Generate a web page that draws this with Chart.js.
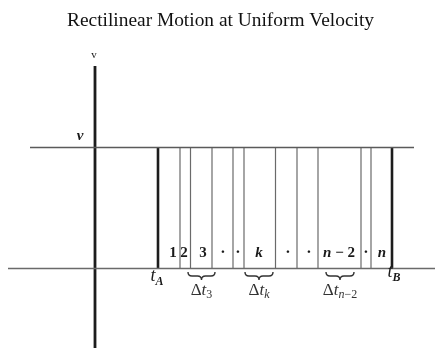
<!DOCTYPE html>
<html>
<head>
<meta charset="utf-8">
<script src="https://cdn.jsdelivr.net/npm/chart.js@4.4.1/dist/chart.umd.min.js"></script>
<style>
  html, body { margin: 0; padding: 0; background: #fff; }
  #wrap { width: 441px; height: 348px; }
</style>
</head>
<body>
<div id="wrap"><canvas id="motion"></canvas></div>
<script>
// Rectilinear motion at uniform velocity: v(t) = v between tA and tB,
// split into n small intervals.

const titleText = 'Rectilinear Motion at Uniform Velocity';

// interval boundaries on the time axis (tA first, tB last)
const boundaries = [6.3, 8.5, 9.55, 11.7, 13.8, 14.9, 18.05, 20.2, 22.3, 26.6, 27.6, 29.7];
const velocity = 12.1;

// labels written inside the intervals
const cellLabels = ['1', '2', '3', '·', '·', 'k', '·', '·', 'n−2', '·', 'n'];
const cellLabelX = [7.8, 8.9, 10.8, 12.8, 14.3, 16.4, 19.3, 21.4, 24.4, 27.1, 28.7];
const cellLabelY = 1.1;

// braces under some intervals
const braceFrom = [9.3, 15.0, 23.1];
const braceTo = [12.0, 17.8, 25.9];
const braceSub = ['3', 'k', 'n−2'];

// axis extents
const timeAxisFrom = -8.7, timeAxisTo = 34.0;
const velLineFrom = -6.5, velLineTo = 31.9;
const velAxisFrom = -8.0, velAxisTo = 20.25;

const datasets = [];
function segment(x0, y0, x1, y1, color, width) {
  datasets.push({
    data: [{ x: x0, y: y0 }, { x: x1, y: y1 }],
    showLine: true,
    borderColor: color,
    borderWidth: width,
    pointRadius: 0,
    pointHoverRadius: 0,
    fill: false
  });
}

segment(timeAxisFrom, 0, timeAxisTo, 0, '#6a6a6a', 1.6);
segment(velLineFrom, velocity, velLineTo, velocity, '#5a5a5a', 1.4);
segment(0, velAxisFrom, 0, velAxisTo, '#1c1c1c', 2.8);
boundaries.forEach((t, i) => {
  const edge = i === 0 || i === boundaries.length - 1;
  segment(t, 0, t, velocity, edge ? '#1c1c1c' : '#6a6a6a', edge ? 2.6 : 1.2);
});

const SERIF = '"Liberation Serif", "DejaVu Serif", serif';

// draw text made of styled pieces: [text, font, dy]
function drawPieces(ctx, pieces, x, y, align) {
  let total = 0;
  pieces.forEach(p => { ctx.font = p[1]; total += ctx.measureText(p[0]).width; });
  let cx = align === 'center' ? x - total / 2 : x;
  pieces.forEach(p => {
    ctx.font = p[1];
    ctx.fillText(p[0], cx, y + (p[2] || 0));
    cx += ctx.measureText(p[0]).width;
  });
}

function labelPieces(s) {
  if (s === 'k') return [['k', 'italic bold 15px ' + SERIF]];
  if (s === 'n') return [['n', 'italic bold 15px ' + SERIF]];
  if (s === 'n−2') return [['n', 'italic bold 15px ' + SERIF], [' − 2', 'bold 15px ' + SERIF]];
  if (s === '·') return [['·', 'bold 16px ' + SERIF]];
  return [[s, 'bold 15px ' + SERIF]];
}

const annotations = {
  id: 'annotations',
  afterDatasetsDraw(chart) {
    const { ctx, scales: { x, y } } = chart;
    ctx.save();
    ctx.fillStyle = '#1a1a1a';
    ctx.textBaseline = 'alphabetic';

    // axis names
    drawPieces(ctx, [['v', 'italic bold 15px ' + SERIF]], x.getPixelForValue(-1.5), y.getPixelForValue(velocity + 0.75), 'center');
    drawPieces(ctx, [['v', '11px ' + SERIF]], x.getPixelForValue(-0.1), y.getPixelForValue(velAxisTo + 0.8), 'center');

    // interval labels
    cellLabels.forEach((s, i) => {
      drawPieces(ctx, labelPieces(s), x.getPixelForValue(cellLabelX[i]), y.getPixelForValue(cellLabelY), 'center');
    });

    // tA and tB
    const tA = boundaries[0], tB = boundaries[boundaries.length - 1];
    drawPieces(ctx, [['t', 'italic 18px ' + SERIF], ['A', 'italic bold 12px ' + SERIF, 4]],
      x.getPixelForValue(tA - 0.75), y.getPixelForValue(-1.3), 'left');
    drawPieces(ctx, [['t', 'italic 18px ' + SERIF], ['B', 'italic bold 12px ' + SERIF, 4]],
      x.getPixelForValue(tB - 0.45), y.getPixelForValue(-0.85), 'left');

    // braces with Δt labels
    ctx.strokeStyle = '#333';
    ctx.lineWidth = 1.4;
    braceFrom.forEach((b0, i) => {
      const x0 = x.getPixelForValue(b0), x1 = x.getPixelForValue(braceTo[i]);
      const top = y.getPixelForValue(-0.35), h = 8;
      const xm = (x0 + x1) / 2, r = 4;
      ctx.beginPath();
      ctx.moveTo(x0, top);
      ctx.quadraticCurveTo(x0, top + h / 2, x0 + r, top + h / 2);
      ctx.lineTo(xm - r, top + h / 2);
      ctx.quadraticCurveTo(xm, top + h / 2, xm, top + h);
      ctx.quadraticCurveTo(xm, top + h / 2, xm + r, top + h / 2);
      ctx.lineTo(x1 - r, top + h / 2);
      ctx.quadraticCurveTo(x1, top + h / 2, x1, top);
      ctx.stroke();

      ctx.fillStyle = '#333';
      const sub = braceSub[i];
      const subPieces = sub === 'n−2'
        ? [['n', 'italic 12px ' + SERIF, 3], ['−2', '12px ' + SERIF, 3]]
        : [[sub, (sub === 'k' ? 'italic ' : '') + '12px ' + SERIF, 3]];
      drawPieces(ctx, [['Δ', '17px ' + SERIF], ['t', 'italic 17px ' + SERIF]].concat(subPieces),
        xm, y.getPixelForValue(-2.65), 'center');
    });
    ctx.restore();
  }
};

new Chart(document.getElementById('motion'), {
  type: 'scatter',
  data: { datasets },
  options: {
    responsive: true,
    maintainAspectRatio: false,
    animation: false,
    layout: { padding: 0 },
    scales: {
      x: { type: 'linear', min: -9.5, max: 34.6, display: false },
      y: { type: 'linear', min: -7.95, max: 23.62, display: false }
    },
    plugins: {
      legend: { display: false },
      tooltip: { enabled: false },
      title: {
        display: true,
        text: titleText,
        color: '#111',
        font: { family: SERIF, size: 19.4, weight: 'normal' },
        padding: { top: 9, bottom: 0 }
      }
    }
  },
  plugins: [annotations]
});
</script>
</body>
</html>
